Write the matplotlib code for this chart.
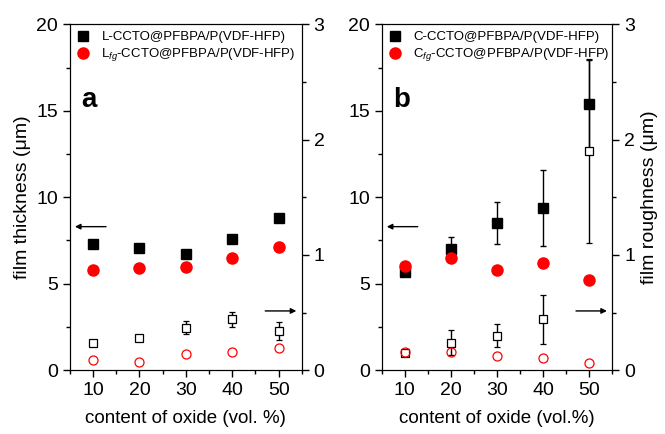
import matplotlib
matplotlib.use('Agg')
import matplotlib.pyplot as plt
from matplotlib.ticker import MultipleLocator

plt.rcParams['font.family'] = ['Liberation Sans', 'DejaVu Sans']
plt.rcParams['mathtext.fontset'] = 'custom'
plt.rcParams['mathtext.rm'] = 'Liberation Sans'
plt.rcParams['mathtext.it'] = 'Liberation Sans:italic'

# content of oxide (vol. %)
content = [10, 20, 30, 40, 50]

# panel a: L series
a_thick = [7.30, 7.09, 6.70, 7.59, 8.81]
a_thick_fg = [5.82, 5.92, 5.99, 6.51, 7.11]
a_rough = [0.24, 0.28, 0.37, 0.44, 0.34]
a_rough_err = [0.01, 0.025, 0.058, 0.068, 0.08]
a_rough_fg = [0.092, 0.075, 0.14, 0.16, 0.19]

# panel b: C series
b_thick = [5.68, 6.99, 8.52, 9.40, 15.39]
b_thick_err = [0.0, 0.7, 1.2, 2.2, 2.55]
b_thick_fg = [6.03, 6.49, 5.82, 6.18, 5.20]
b_rough = [0.15, 0.24, 0.30, 0.44, 1.90]
b_rough_err = [0.0, 0.11, 0.10, 0.21, 0.80]
b_rough_fg = [0.16, 0.16, 0.12, 0.11, 0.064]

fig = plt.figure(figsize=(6.65, 4.34), dpi=100)
axa = fig.add_axes([0.105, 0.147, 0.349, 0.797])
axb = fig.add_axes([0.574, 0.147, 0.347, 0.797])

panels = [
    (axa, 'a', a_thick, None, a_thick_fg, a_rough, a_rough_err, a_rough_fg,
     'L-CCTO@PFBPA/P(VDF-HFP)', 'L$_{\\it{fg}}$-CCTO@PFBPA/P(VDF-HFP)',
     'content of oxide (vol. %)'),
    (axb, 'b', b_thick, b_thick_err, b_thick_fg, b_rough, b_rough_err, b_rough_fg,
     'C-CCTO@PFBPA/P(VDF-HFP)', 'C$_{\\it{fg}}$-CCTO@PFBPA/P(VDF-HFP)',
     'content of oxide (vol.%)'),
]

for ax, letter, th, th_err, th_fg, ro, ro_err, ro_fg, lab1, lab2, xlab in panels:
    ax2 = ax.twinx()
    if th_err is not None:
        ax.errorbar(content, th, yerr=th_err, fmt='none', ecolor='black',
                    elinewidth=1, capsize=2.5, zorder=2)
    h1, = ax.plot(content, th, 's', color='black', ms=7.5, label=lab1, zorder=3)
    h2, = ax.plot(content, th_fg, 'o', color='red', ms=8, label=lab2, zorder=4)
    ax2.errorbar(content, ro, yerr=ro_err, fmt='s', mfc='white', mec='black',
                 color='black', ms=6, mew=0.9, elinewidth=1, capsize=2.5, zorder=3)
    ax2.plot(content, ro_fg, 'o', mfc='none', mec='red', ms=6.5, mew=0.9, zorder=4)

    ax.set_xlim(5, 55)
    ax.set_ylim(0, 20)
    ax2.set_ylim(0, 3)
    ax.xaxis.set_major_locator(MultipleLocator(10))
    ax.xaxis.set_minor_locator(MultipleLocator(5))
    ax.yaxis.set_major_locator(MultipleLocator(5))
    ax.yaxis.set_minor_locator(MultipleLocator(2.5))
    ax2.yaxis.set_major_locator(MultipleLocator(1))
    ax2.yaxis.set_minor_locator(MultipleLocator(0.5))
    for a in (ax, ax2):
        a.tick_params(which='major', direction='out', length=5, width=1, labelsize=14)
        a.tick_params(which='minor', direction='out', length=3, width=1)
    ax.set_xlabel(xlab, fontsize=13.5, labelpad=8)

    ax.annotate('', xy=(6.1, 8.3), xytext=(12.8, 8.3),
                arrowprops=dict(arrowstyle='-|>', color='black', lw=1,
                                mutation_scale=8, shrinkA=0, shrinkB=0))
    ax2.annotate('', xy=(53.8, 0.514), xytext=(47.1, 0.514),
                 arrowprops=dict(arrowstyle='-|>', color='black', lw=1,
                                 mutation_scale=8, shrinkA=0, shrinkB=0))

    ax.text(0.05, 0.78, letter, transform=ax.transAxes, fontsize=20,
            fontweight='bold', va='center', ha='left')
    ax.legend(handles=[h1, h2], loc='upper left', frameon=False, fontsize=9.5,
              handletextpad=0.9, borderaxespad=0.2, labelspacing=0.25,
              handlelength=1.0, borderpad=0.3)

    if letter == 'a':
        ax.set_ylabel('film thickness (\u03bcm)', fontsize=14)
    else:
        ax2.set_ylabel('film roughness (\u03bcm)', fontsize=14)

fig.savefig('out.png', dpi=100)
